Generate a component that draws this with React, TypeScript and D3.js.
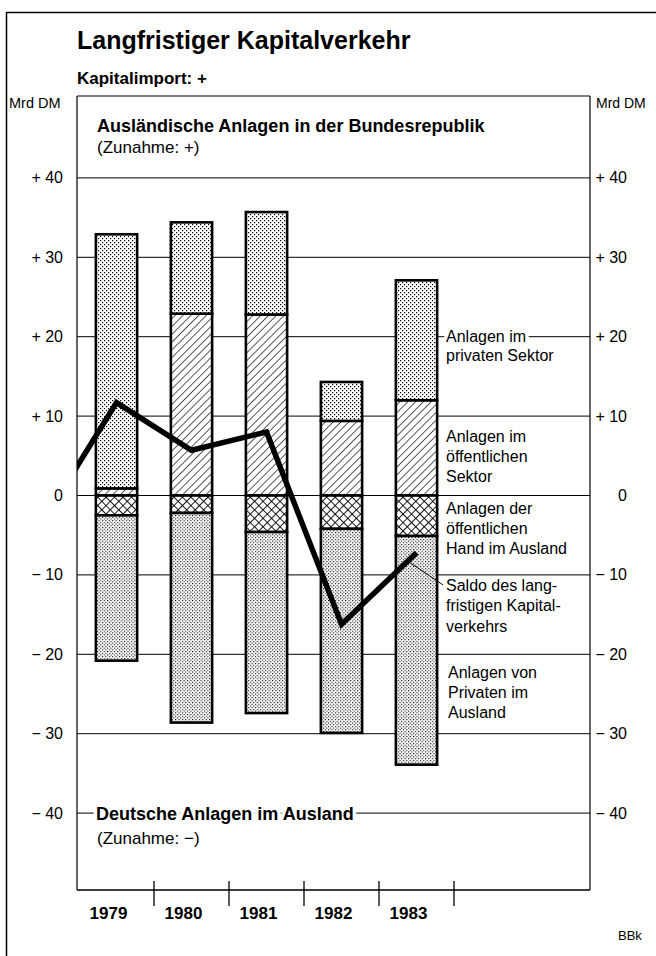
import * as d3 from 'd3';

const years = ['1979', '1980', '1981', '1982', '1983'];

// Ausländische Anlagen in der Bundesrepublik (Mrd DM)
const oeffentlicherSektor = [0.9, 22.9, 22.8, 9.4, 12.0];
const privaterSektor = [32.0, 11.5, 12.9, 4.9, 15.1];

// Deutsche Anlagen im Ausland (Mrd DM)
const oeffentlicheHandAusland = [-2.5, -2.2, -4.6, -4.2, -5.1];
const privateImAusland = [-18.3, -26.4, -22.8, -25.7, -28.8];

// Saldo des langfristigen Kapitalverkehrs; 1978 only feeds the line entering from the left edge
const saldoYears = ['1978', '1979', '1980', '1981', '1982', '1983'];
const saldo = [-3.6, 11.7, 5.7, 8.0, -16.2, -7.2];

const yTicks = [40, 30, 20, 10, 0, -10, -20, -30, -40];

const W = 656;
const H = 956;
const plot = { left: 77, right: 590, top: 96, bottom: 890 };
const font = '"Liberation Sans", Arial, Helvetica, sans-serif';

const fmtTick = (v: number) => (v > 0 ? `+ ${v}` : v < 0 ? `\u2212 ${-v}` : '0');

export default function App() {
  const y = d3.scaleLinear().domain([-50, 50]).range([892.5, 98.5]);
  const x = d3
    .scaleBand<string>()
    .domain(years)
    .range([79, 454])
    .paddingInner(0.45)
    .paddingOuter(0.225);
  const bw = x.bandwidth();
  const step = x.step();

  const centerOf = (yr: string) =>
    yr === '1978' ? (x('1979') as number) + bw / 2 - step : (x(yr) as number) + bw / 2;

  // stacked segments per year
  const segments = years.flatMap((yr, i) => {
    const bx = x(yr) as number;
    const o = oeffentlicherSektor[i];
    const p = privaterSektor[i];
    const h = oeffentlicheHandAusland[i];
    const a = privateImAusland[i];
    return [
      { key: `${yr}-o`, x: bx, y0: 0, y1: o, fill: 'url(#hatch)' },
      { key: `${yr}-p`, x: bx, y0: o, y1: o + p, fill: 'url(#dots)' },
      { key: `${yr}-h`, x: bx, y0: 0, y1: h, fill: 'url(#cross)' },
      { key: `${yr}-a`, x: bx, y0: h, y1: h + a, fill: 'url(#dots2)' },
    ];
  });

  const line = d3
    .line<number>()
    .x((_, i) => centerOf(saldoYears[i]))
    .y((d) => y(d));

  const boundaries = years.map((yr) => (x(yr) as number) + bw / 2 + step / 2);

  const labelX = 446;
  const lbl = { fontSize: 16, fontFamily: font };
  const halo = { stroke: '#fff', strokeWidth: 7, paintOrder: 'stroke' as const, strokeLinejoin: 'round' as const };

  const last = saldo.length - 1;

  return (
    <div style={{ position: 'absolute', left: 0, top: 0, background: '#fff' }}>
      <svg width={W} height={H} viewBox={`0 0 ${W} ${H}`} style={{ display: 'block', background: '#fff' }}>
        <defs>
          <pattern id="dots" width={4} height={4} patternUnits="userSpaceOnUse">
            <rect width={4} height={4} fill="#fff" />
            <rect x={0} y={0} width={1.2} height={1.2} fill="#000" />
            <rect x={2} y={2} width={1.2} height={1.2} fill="#000" />
          </pattern>
          <pattern id="dots2" width={3.4} height={3.4} patternUnits="userSpaceOnUse">
            <rect width={3.4} height={3.4} fill="#fff" />
            <rect x={0} y={0} width={1.1} height={1.1} fill="#000" />
            <rect x={1.7} y={1.7} width={1.1} height={1.1} fill="#000" />
          </pattern>
          <pattern id="hatch" width={5.5} height={5.5} patternUnits="userSpaceOnUse" patternTransform="rotate(45)">
            <rect width={5.5} height={5.5} fill="#fff" />
            <line x1={0} y1={0} x2={0} y2={5.5} stroke="#000" strokeWidth={1.3} />
          </pattern>
          <pattern id="cross" width={6} height={6} patternUnits="userSpaceOnUse" patternTransform="rotate(45)">
            <rect width={6} height={6} fill="#fff" />
            <line x1={0} y1={0} x2={0} y2={6} stroke="#000" strokeWidth={1.8} />
            <line x1={0} y1={0} x2={6} y2={0} stroke="#000" strokeWidth={1.8} />
          </pattern>
          <clipPath id="plotClip">
            <rect x={plot.left} y={plot.top} width={plot.right - plot.left} height={plot.bottom - plot.top} />
          </clipPath>
        </defs>

        <rect width={W} height={H} fill="#fff" />

        {/* outer frame */}
        <line x1={6.5} y1={12.5} x2={W} y2={12.5} stroke="#000" strokeWidth={1.5} />
        <line x1={6.5} y1={12} x2={6.5} y2={H} stroke="#000" strokeWidth={1.5} />

        {/* titles */}
        <text x={77} y={49} fontFamily={font} fontSize={25} fontWeight="bold">
          Langfristiger Kapitalverkehr
        </text>
        <text x={77} y={84} fontFamily={font} fontSize={17} fontWeight="bold">
          Kapitalimport: +
        </text>
        <text x={9} y={108} fontFamily={font} fontSize={14.5}>
          Mrd DM
        </text>
        <text x={596} y={108} fontFamily={font} fontSize={14}>
          Mrd DM
        </text>

        {/* gridlines */}
        {yTicks.map((v) => (
          <line key={`g${v}`} x1={plot.left} x2={plot.right} y1={y(v)} y2={y(v)} stroke="#000" strokeWidth={1} />
        ))}

        {/* plot frame */}
        <line x1={plot.left} y1={plot.top} x2={plot.right} y2={plot.top} stroke="#000" strokeWidth={1.2} />
        <line x1={plot.left} y1={plot.top} x2={plot.left} y2={plot.bottom} stroke="#000" strokeWidth={1.2} />
        <line x1={plot.right} y1={plot.top} x2={plot.right} y2={plot.bottom} stroke="#000" strokeWidth={1.2} />
        <line x1={plot.left} y1={plot.bottom} x2={plot.right} y2={plot.bottom} stroke="#000" strokeWidth={1.6} />

        {/* tick labels */}
        {yTicks.map((v) => (
          <g key={`t${v}`} fontFamily={font} fontSize={16}>
            <text x={63} y={y(v) + 5.5} textAnchor="end">
              {fmtTick(v)}
            </text>
            <text x={627} y={y(v) + 5.5} textAnchor="end">
              {fmtTick(v)}
            </text>
          </g>
        ))}

        {/* bars */}
        {segments.map((s) => (
          <rect
            key={s.key}
            x={s.x}
            width={bw}
            y={Math.min(y(s.y0), y(s.y1))}
            height={Math.abs(y(s.y0) - y(s.y1))}
            fill={s.fill}
            stroke="#000"
            strokeWidth={2.6}
          />
        ))}

        {/* saldo line */}
        <path d={line(saldo) ?? ''} fill="none" stroke="#000" strokeWidth={5.5} strokeLinejoin="miter" clipPath="url(#plotClip)" />

        {/* section headers */}
        <text x={97} y={132} fontFamily={font} fontSize={18} fontWeight="bold">
          Ausländische Anlagen in der Bundesrepublik
        </text>
        <text x={97} y={153} fontFamily={font} fontSize={17}>
          (Zunahme: +)
        </text>
        <text x={96} y={y(-40) + 6.5} fontFamily={font} fontSize={18} fontWeight="bold" {...halo}>
          Deutsche Anlagen im Ausland
        </text>
        <text x={97} y={y(-40) + 31} fontFamily={font} fontSize={17}>
          (Zunahme: {'\u2212'})
        </text>

        {/* series labels on the right */}
        <g {...lbl}>
          <text x={labelX} y={y(20) + 5.5} {...halo}>
            Anlagen im
          </text>
          <text x={labelX} y={y(20) + 24}>privaten Sektor</text>

          <text x={labelX} y={y(10) + 26}>Anlagen im</text>
          <text x={labelX} y={y(10) + 46}>öffentlichen</text>
          <text x={labelX} y={y(10) + 66}>Sektor</text>

          <text x={labelX} y={y(0) + 18}>Anlagen der</text>
          <text x={labelX} y={y(0) + 38}>öffentlichen</text>
          <text x={labelX} y={y(0) + 58}>Hand im Ausland</text>

          <text x={labelX} y={y(-10) + 16}>Saldo des lang-</text>
          <text x={labelX} y={y(-10) + 36}>fristigen Kapital-</text>
          <text x={labelX} y={y(-10) + 57}>verkehrs</text>

          <text x={labelX + 2} y={y(-20) + 24}>Anlagen von</text>
          <text x={labelX + 2} y={y(-20) + 44}>Privaten im</text>
          <text x={labelX + 2} y={y(-20) + 64}>Ausland</text>
        </g>

        {/* leader from saldo label to line */}
        <line
          x1={centerOf(saldoYears[last]) - 8}
          y1={y(saldo[last]) + 9}
          x2={labelX - 3}
          y2={y(-10) + 10}
          stroke="#000"
          strokeWidth={1}
        />

        {/* x axis ticks and year labels */}
        {boundaries.map((bx, i) => (
          <line key={`b${i}`} x1={bx} x2={bx} y1={plot.bottom - 9} y2={plot.bottom + 16} stroke="#000" strokeWidth={1.3} />
        ))}
        {years.map((yr) => (
          <text
            key={yr}
            x={centerOf(yr) - 8}
            y={919}
            textAnchor="middle"
            fontFamily={font}
            fontSize={17}
            fontWeight="bold"
          >
            {yr}
          </text>
        ))}

        <text x={618} y={940} fontFamily={font} fontSize={13}>
          BBk
        </text>
      </svg>
    </div>
  );
}
